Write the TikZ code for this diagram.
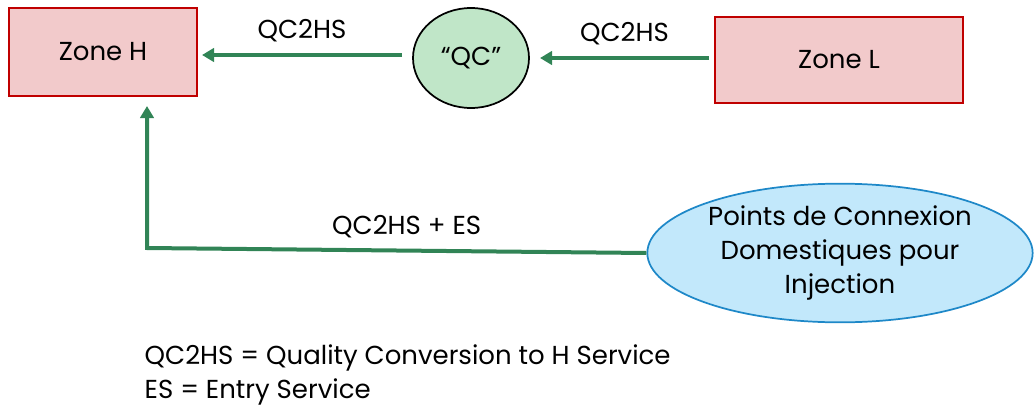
\documentclass[tikz,border=0pt]{standalone}
\usepackage{fontspec}
\setmainfont{Poppins}
\usetikzlibrary{arrows.meta,shapes.geometric}
\definecolor{zonefill}{RGB}{242,202,203}
\definecolor{zonedraw}{RGB}{192,0,0}
\definecolor{qcfill}{RGB}{192,230,200}
\definecolor{injfill}{RGB}{194,232,251}
\definecolor{injdraw}{RGB}{30,136,200}
\definecolor{flow}{RGB}{49,132,86}
\tikzset{
  zonebox/.style={draw=zonedraw,fill=zonefill,line width=1.5pt,rectangle,inner sep=0pt},
  txt/.style={font=\fontsize{19.5}{25.5}\selectfont},
  flowarrow/.style={draw=flow,line width=3pt,-{Triangle[length=9pt,width=10pt]}},
}
\begin{document}
\begin{tikzpicture}[x=0.75pt,y=-0.75pt]
\useasboundingbox (0,0) rectangle (1035,407);
\node[zonebox,minimum width=141pt,minimum height=66pt,txt] (zh) at (103,52) {Zone H};
\node[zonebox,minimum width=186pt,minimum height=64pt,txt] (zl) at (839,60) {Zone L};
\node[ellipse,draw=black,line width=1.3pt,fill=qcfill,minimum width=87pt,minimum height=75pt,inner sep=0pt,txt] (qc) at (471,58) {“QC”};
\node[ellipse,draw=injdraw,line width=1.3pt,fill=injfill,minimum width=289pt,minimum height=104pt,inner sep=0pt,txt,align=center] (inj) at (840,253) {Points de Connexion\\Domestiques pour\\Injection};
\coordinate (corner) at (147,248);
\coordinate (zhin) at (147,106);
\draw[flowarrow] (qc.west) ++(-10,-3) coordinate (qcl) -- (202,55) node[pos=0.5,above=5pt,txt] {QC2HS};
\draw[flowarrow] (zl.west) ++(-5,-2) -- (540,58) node[pos=0.5,above=5pt,txt] {QC2HS};
\draw[flowarrow] (inj.west) -- (corner) node[pos=0.48,above=5pt,txt] {QC2HS + ES} -- (zhin);
\node[txt,anchor=west,align=left] (legend) at (140,375) {QC2HS = Quality Conversion to H Service\\ES = Entry Service};
\end{tikzpicture}
\end{document}
